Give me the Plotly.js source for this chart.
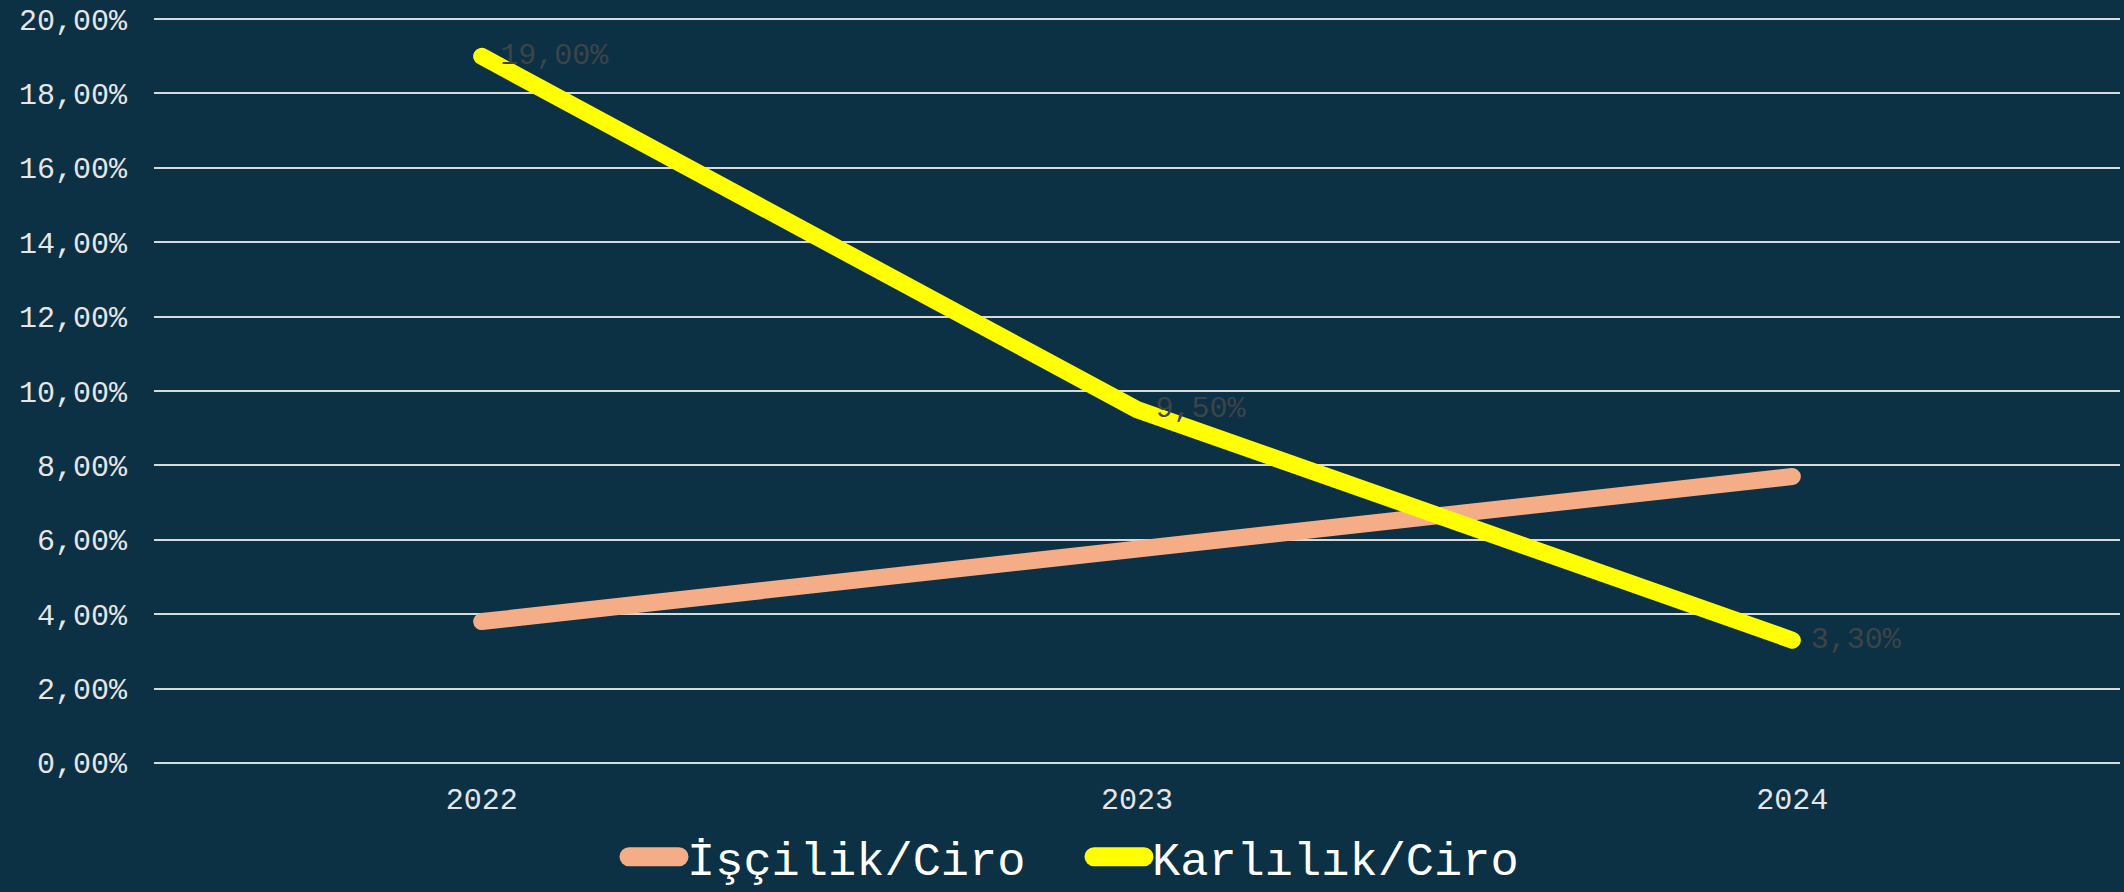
<!DOCTYPE html>
<html><head><meta charset="utf-8">
<script src="https://cdn.plot.ly/plotly-3.0.1.min.js"></script>
<style>html,body{margin:0;padding:0;background:#0c3044;}</style>
</head><body>
<div id="chart" style="width:2124px;height:892px;"></div>
<script>
const years = ['2022', '2023', '2024'];
const iscilikCiro = [3.8, 5.7, 7.7];
const karlilikCiro = [19.0, 9.5, 3.3];
const seriesNames = ['İşçilik/Ciro', 'Karlılık/Ciro'];

const FONT = '"Liberation Mono", "Courier New", monospace';
const traces = [
  {x: years, y: iscilikCiro, name: seriesNames[0], type: 'scatter', mode: 'lines',
   line: {color: '#f4ad87', width: 17}, hoverinfo: 'skip'},
  {x: years, y: karlilikCiro, name: seriesNames[1], type: 'scatter', mode: 'lines+markers+text',
   line: {color: '#ffff00', width: 17}, marker: {color: '#ffff00', size: 28, opacity: 0},
   texttemplate: '%{y:.2f}%', textposition: 'middle right',
   textfont: {family: FONT, size: 30, color: '#3d4448'}, hoverinfo: 'skip'}
];
const layout = {
  width: 2124, height: 892,
  paper_bgcolor: '#0c3044', plot_bgcolor: '#0c3044',
  separators: ', ',
  margin: {l: 154, r: 4, t: 18, b: 128, autoexpand: false},
  font: {family: FONT, color: '#e6e6e6'},
  showlegend: true,
  legend: {orientation: 'h', x: 0.2355, xanchor: 'left', y: -0.125, yanchor: 'middle',
           font: {family: FONT, size: 47, color: '#ffffff'}, itemwidth: 60,
           entrywidth: 390, entrywidthmode: 'pixels',
           bgcolor: 'rgba(0,0,0,0)'},
  xaxis: {type: 'category', range: [-0.5, 2.5], showgrid: false, zeroline: false,
          showline: false, ticks: '', tickfont: {family: FONT, size: 30, color: '#e6e6e6'},
          ticklabelstandoff: 14},
  yaxis: {range: [-0.03, 20.03], dtick: 2, tick0: 0, tickformat: '.2f', ticksuffix: '%',
          showgrid: true, gridcolor: '#d9d9d9', gridwidth: 2, zeroline: false,
          showline: false, ticks: '', tickfont: {family: FONT, size: 30, color: '#e6e6e6'},
          ticklabelstandoff: 26}
};
Plotly.newPlot('chart', traces, layout, {displayModeBar: false, staticPlot: true}).then(function () {
  document.querySelectorAll('.scatterlayer .js-line').forEach(function (p) {
    p.style.strokeLinecap = 'round';
  });
  document.querySelectorAll('.legend .js-line').forEach(function (p) {
    p.setAttribute('d', 'M12,0h50');
    p.style.strokeWidth = '19px';
    p.style.strokeLinecap = 'round';
  });
  document.querySelectorAll('.legend .scatterpts').forEach(function (p) {
    p.style.display = 'none';
  });
});
</script>
</body></html>
